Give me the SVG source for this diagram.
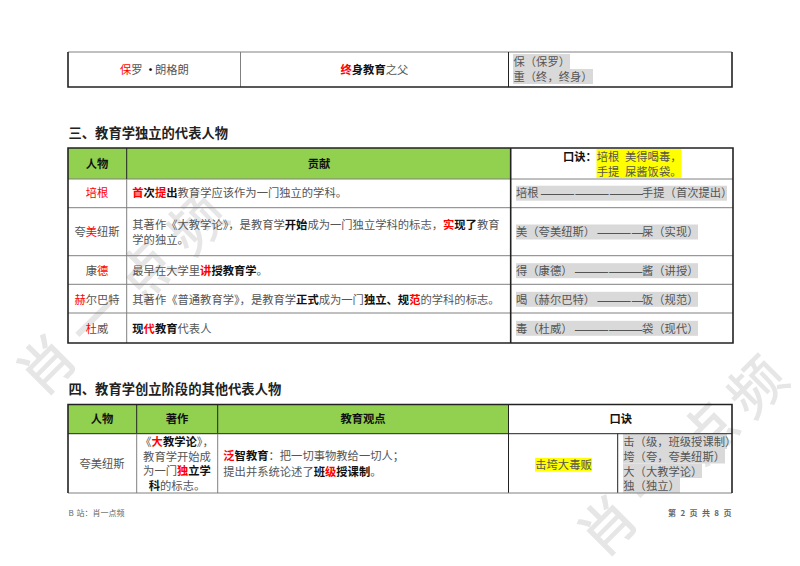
<svg xmlns="http://www.w3.org/2000/svg" width="800" height="566" viewBox="0 0 800 566">
<style>
text{font-family:"Noto Sans CJK SC","Noto Sans",sans-serif;font-size:11.3px;fill:#555}
.m{text-anchor:middle}
.b{font-weight:700;fill:#111}
.r{fill:#f00}
.rb{font-weight:700;fill:#f00}
.h{font-size:13.3px;font-weight:700;fill:#222}
.th{font-weight:700;fill:#111}
.f{font-size:8px;fill:#666;word-spacing:1px}
.wm{font-size:56px;font-weight:500;fill:#e6e6e6}
.dash{font-size:14px}
.o{fill:none;stroke:#222;stroke-width:1.6}
.i{fill:none;stroke:#808080;stroke-width:1}
.d{fill:none;stroke:#222;stroke-width:1}
.g{fill:#92d050}
.y{fill:#ffff00}
.s{fill:#d9d9d9}
</style>
<rect width="800" height="566" fill="#fff"/>
<g id="watermarks">
<text class="wm m" transform="translate(47,365) rotate(-45)" x="0" y="20">肖</text>
<text class="wm m" transform="translate(97,318) rotate(-45)" x="0" y="20">一</text>
<text class="wm m" transform="translate(147,271) rotate(-45)" x="0" y="20">点</text>
<text class="wm m" transform="translate(197,224) rotate(-45)" x="0" y="20">频</text>
<text class="wm m" transform="translate(608,526) rotate(-45)" x="0" y="20">肖</text>
<text class="wm m" transform="translate(658,479) rotate(-45)" x="0" y="20">一</text>
<text class="wm m" transform="translate(708,433) rotate(-45)" x="0" y="20">点</text>
<text class="wm m" transform="translate(757,387) rotate(-45)" x="0" y="20">频</text>
</g>

<g id="table-top">
<rect class="s" x="513" y="54" width="57" height="15"/>
<rect class="s" x="513" y="69" width="80" height="15"/>
<path class="i" d="M68 52H732M240.5 52V87"/>
<path class="o" d="M68 52V87H732V52"/>
<path class="d" d="M508.5 52V87"/>
<text x="120" y="74.3"><tspan class="r">保</tspan>罗</text>
<text x="145" y="74.3" class="b" style="font-size:11px">•</text>
<text x="155" y="74.3">朗格朗</text>
<text x="340.5" y="74.3"><tspan class="rb">终</tspan><tspan class="b">身教育</tspan>之父</text>
<text x="513.5" y="66">保（保罗）</text>
<text x="513.5" y="81">重（终，终身）</text>
</g>

<g id="heading-3"><text class="h" x="68.5" y="138">三、教育学独立的代表人物</text></g>

<g id="table-3">
<rect class="g" x="68" y="148" width="442.5" height="31"/>
<rect class="y" x="596.5" y="149" width="85" height="29"/>
<rect class="s" x="516" y="185.7" width="211" height="15"/>
<rect class="s" x="516" y="224.5" width="182" height="15"/>
<rect class="s" x="516" y="263.2" width="182" height="15"/>
<rect class="s" x="516" y="291.8" width="182" height="15"/>
<rect class="s" x="516" y="320.8" width="182" height="15"/>
<path class="i" d="M68 179H733M68 207.7H733M68 255.7H733M68 284.3H733M68 313H733M126.7 179V343"/>
<path class="d" d="M126.7 148V179"/>
<path class="o" d="M68 148H733V343H68ZM510.7 148V343"/>
<text class="th m" x="97" y="168.3">人物</text>
<text class="th m" x="319" y="168.3">贡献</text>
<text class="th" x="563" y="161.3">口诀：</text>
<text x="596.7" y="161.3">培根</text><text x="625" y="161.3">美得喝毒，</text>
<text x="596.7" y="176.3">手提</text><text x="625" y="176.3">屎酱饭袋。</text>

<text class="m r" x="97" y="197.3">培根</text>
<text x="132.3" y="197.3"><tspan class="rb">首</tspan><tspan class="b">次</tspan><tspan class="rb">提</tspan><tspan class="b">出</tspan>教育学应该作为一门独立的学科。</text>
<text x="516" y="197.3">培根</text>
<text class="dash" x="540.3" y="198.3">—————————</text>
<text x="642" y="197.3">手提（首次提出）</text>

<text class="m" x="97" y="236.3">夸<tspan class="r">美</tspan>纽斯</text>
<text x="132.3" y="229.3">其著作《大教学论》，是教育学<tspan class="b">开始</tspan>成为一门独立学科的标志，<tspan class="rb">实</tspan><tspan class="b">现了</tspan>教育</text>
<text x="132.3" y="244.3">学的独立。</text>
<text x="516" y="236">美（夸美纽斯）</text>
<text class="dash" x="596.8" y="237">————</text>
<text x="642" y="236">屎（实现）</text>

<text class="m" x="97" y="275">康<tspan class="r">德</tspan></text>
<text x="132.3" y="275">最早在大学里<tspan class="rb">讲</tspan><tspan class="b">授教育学</tspan>。</text>
<text x="516" y="275">得（康德）</text>
<text class="dash" x="574.2" y="276">——————</text>
<text x="642" y="275">酱（讲授）</text>

<text class="m" x="97" y="303.6"><tspan class="r">赫</tspan>尔巴特</text>
<text x="132.3" y="303.6">其著作《普通教育学》，是教育学<tspan class="b">正式</tspan>成为一门<tspan class="b">独立、规</tspan><tspan class="rb">范</tspan>的学科的标志。</text>
<text x="516" y="303.6">喝（赫尔巴特）</text>
<text class="dash" x="596.8" y="304.6">————</text>
<text x="642" y="303.6">饭（规范）</text>

<text class="m" x="97" y="332.6"><tspan class="r">杜</tspan>威</text>
<text x="132.3" y="332.6"><tspan class="b">现</tspan><tspan class="rb">代</tspan><tspan class="b">教育</tspan>代表人</text>
<text x="516" y="332.6">毒（杜威）</text>
<text class="dash" x="574.2" y="333.6">——————</text>
<text x="642" y="332.6">袋（现代）</text>
</g>

<g id="heading-4"><text class="h" x="68.5" y="394">四、教育学创立阶段的其他代表人物</text></g>

<g id="table-4">
<rect class="g" x="68" y="404.5" width="440.5" height="29"/>
<rect class="y" x="535" y="458" width="57" height="13.5"/>
<rect class="s" x="623" y="434" width="104" height="15"/>
<rect class="s" x="623" y="449" width="102" height="14.5"/>
<rect class="s" x="623" y="463.5" width="79" height="14.5"/>
<rect class="s" x="623" y="478" width="57" height="15"/>
<path class="d" d="M68 433.7H732M136.7 404.5V433.7M217.7 404.5V433.7M508.5 404.5V493M617.7 433.7V493"/>
<path class="i" d="M136.7 433.7V493M217.7 433.7V493M68 493H732"/>
<path class="o" d="M68 493V404.5H732V493"/>
<text class="th m" x="102" y="423.3">人物</text>
<text class="th m" x="177" y="423.3">著作</text>
<text class="th m" x="363" y="423.3">教育观点</text>
<text class="th m" x="620.7" y="423.3">口诀</text>

<text class="m" x="102" y="468.3">夸美纽斯</text>
<text class="m" x="177" y="446">《<tspan class="rb">大</tspan><tspan class="b">教学论</tspan>》，</text>
<text class="m" x="177" y="460.8">教育学开始成</text>
<text class="m" x="177" y="475.3">为一门<tspan class="rb">独</tspan><tspan class="b">立学</tspan></text>
<text class="m" x="177" y="490.3"><tspan class="b">科</tspan>的标志。</text>
<text x="223.3" y="460.3"><tspan class="rb">泛</tspan><tspan class="b">智教育</tspan>：把一切事物教给一切人；</text>
<text x="223.3" y="476">提出并系统论述了<tspan class="b">班</tspan><tspan class="rb">级</tspan><tspan class="b">授课制</tspan>。</text>
<text class="m" x="563.5" y="468.8">击垮大毒贩</text>
<text x="623.3" y="446">击（级，班级授课制）</text>
<text x="623.3" y="461">垮（夸，夸美纽斯）</text>
<text x="623.3" y="475.6">大（大教学论）</text>
<text x="623.3" y="490.2">独（独立）</text>
</g>

<g id="footer">
<text class="f" x="68.5" y="516">B 站：肖一点频</text>
<text class="f" x="731.5" y="516" text-anchor="end" font-weight="700" style="word-spacing:2.6px">第 2 页 共 8 页</text>
</g>
</svg>
